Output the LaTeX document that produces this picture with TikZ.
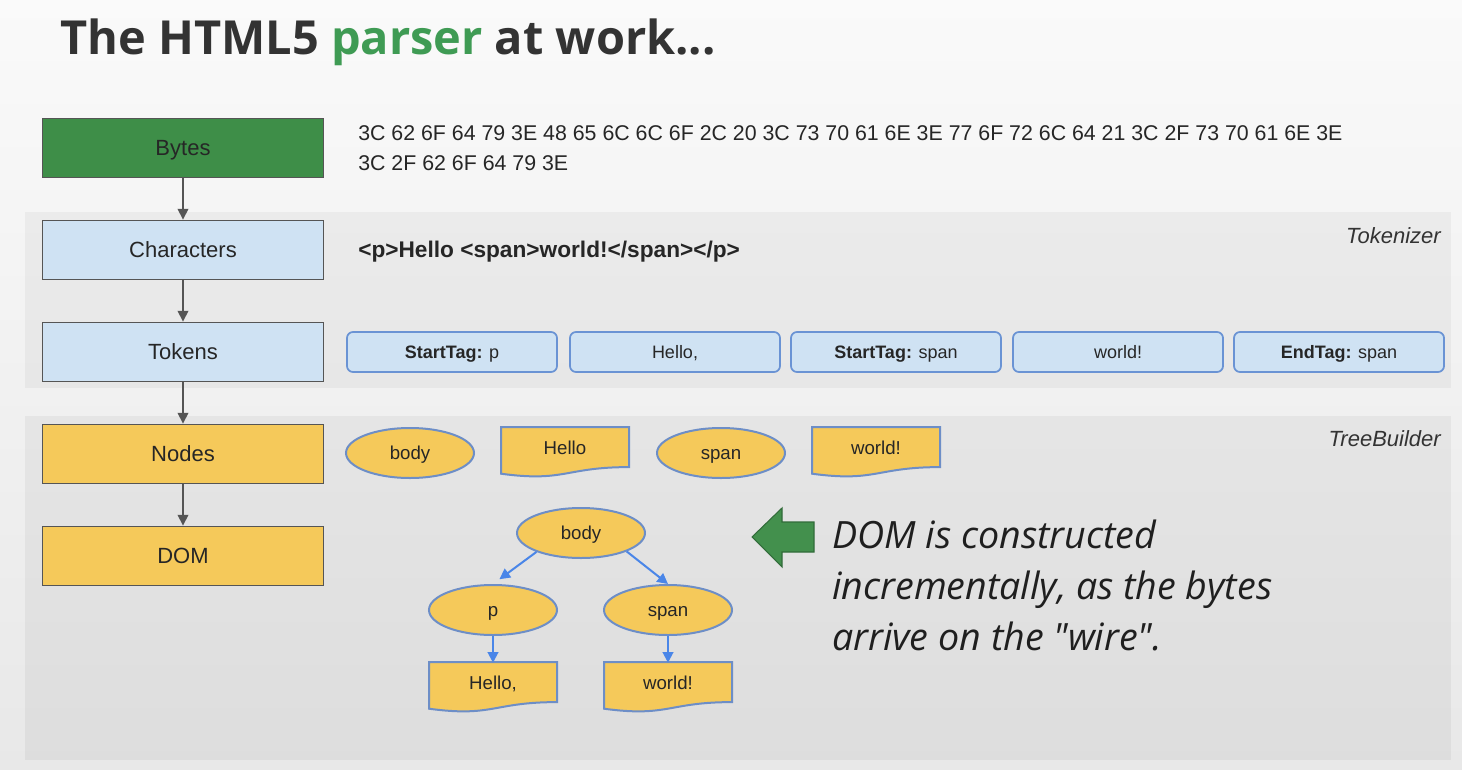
\documentclass[tikz,border=0pt]{standalone}
\usepackage{fontspec}
\setmainfont{Liberation Sans}
\newfontfamily\opensans{Open Sans}
\usetikzlibrary{shapes.geometric,arrows.meta}

\definecolor{inkdark}{HTML}{333333}
\definecolor{titlegreen}{HTML}{3F9B54}
\definecolor{bytesgreen}{HTML}{3E8E48}
\definecolor{arrowgreen}{HTML}{43904D}
\definecolor{stageblue}{HTML}{CFE2F3}
\definecolor{stageyellow}{HTML}{F5C95A}
\definecolor{stageline}{HTML}{555555}
\definecolor{tokenline}{HTML}{6A93D4}
\definecolor{treeline}{HTML}{6D8EC7}
\definecolor{treearrow}{HTML}{4A86E8}

% document shape: flat top, wavy bottom (name, left, top, width, height, text)
\newcommand\wavedoc[6]{%
  \pgfmathsetmacro\wdR{#2+#4}%
  \pgfmathsetmacro\wdM{#2+0.5*#4}%
  \pgfmathsetmacro\wdA{#3+0.802*#5}%
  \pgfmathsetmacro\wdB{#3+1.1075*#5}%
  \pgfmathsetmacro\wdC{#3+0.934*#5}%
  \draw[docshape] (#2,#3) -- (\wdR,#3) -- (\wdR,\wdA)
    .. controls (\wdM,\wdA) and (\wdM,\wdB) .. (#2,\wdC) -- cycle;
  \node[doctext, minimum width=#4*0.75pt, minimum height=#5*0.8*0.75pt]
    (#1) at (\wdM,#3+0.42*#5) {#6};
}

\begin{document}
\begin{tikzpicture}[x=0.75pt,y=-0.75pt,
  stage/.style={draw=stageline, line width=1.4pt, minimum width=210.75pt,
    minimum height=44.25pt, inner sep=0pt, text=black!85,
    text height=11.8pt, text depth=0pt,
    font=\fontsize{16.5}{18}\selectfont},
  flow/.style={draw=stageline, line width=1.1pt,
    -{Triangle[width=8pt,length=8pt]}},
  token/.style={draw=tokenline, fill=stageblue, line width=1.3pt,
    rounded corners=4.5pt, minimum width=157.5pt, minimum height=30pt,
    inner sep=0pt, text=black!85, text height=9.7pt, text depth=0pt,
    font=\fontsize{13.5}{16}\selectfont},
  treenode/.style={ellipse, draw=treeline, fill=stageyellow, line width=1.5pt,
    minimum width=96pt, minimum height=37.5pt, inner sep=0pt,
    text=black!85, text height=10pt, text depth=0pt,
    font=\fontsize{14}{16}\selectfont},
  docshape/.style={draw=treeline, fill=stageyellow, line width=1.5pt},
  doctext/.style={inner sep=0pt, text=black!85, text height=10pt, text depth=0pt,
    font=\fontsize{14}{16}\selectfont},
  treelink/.style={draw=treearrow, line width=1.5pt,
    -{Triangle[width=8pt,length=8pt]}},
  codetext/.style={anchor=base west, inner sep=0pt, text=black!85,
    font=\fontsize{16}{18}\selectfont},
  phase/.style={anchor=base east, inner sep=0pt, text=black!80,
    font=\itshape\fontsize{16.5}{18}\selectfont},
  callout/.style={anchor=base west, inner sep=0pt, text=black!88,
    font=\opensans\itshape\fontsize{28.2}{32}\selectfont}
]
\useasboundingbox (0,0) rectangle (1462,770);

% slide background and the two phase panels
\shade[top color=white!98!black, bottom color=black!9] (0,0) rectangle (1462,770);
\fill[black, fill opacity=0.04] (25,212) rectangle (1451,388);
\fill[black, fill opacity=0.045] (25,416) rectangle (1451,760);

% title
\node[anchor=base west, inner sep=0pt, text=inkdark,
  font=\opensans\bfseries\fontsize{35.2}{40}\selectfont] (title) at (60,55)
  {The HTML5 \textcolor{titlegreen}{parser} at work...};

% processing stages
\node[stage, fill=bytesgreen]  (bytes) at (183,148) {Bytes};
\node[stage, fill=stageblue]   (chars) at (183,250) {Characters};
\node[stage, fill=stageblue]   (toks)  at (183,352) {Tokens};
\node[stage, fill=stageyellow] (nodes) at (183,454) {Nodes};
\node[stage, fill=stageyellow] (dom)   at (183,556) {DOM};
\draw[flow] (bytes) -- (chars);
\draw[flow] (chars) -- (toks);
\draw[flow] (toks) -- (nodes);
\draw[flow] (nodes) -- (dom);

% raw bytes and decoded characters
\node[codetext] (hex1) at (358,141)
  {3C 62 6F 64 79 3E 48 65 6C 6C 6F 2C 20 3C 73 70 61 6E 3E 77 6F 72 6C 64 21 3C 2F 73 70 61 6E 3E};
\node[codetext] (hex2) at (358,171) {3C 2F 62 6F 64 79 3E};
\node[codetext, font=\bfseries\fontsize{17}{20}\selectfont] (chartext) at (358,257)
  {<p>Hello <span>world!</span></p>};

% phase labels
\node[phase] (tokenizer) at (1441,243) {Tokenizer};
\node[phase] (treebuilder) at (1441,446) {TreeBuilder};

% token stream
\node[token] (t1) at (452,352)  {\textbf{StartTag:} p};
\node[token] (t2) at (675,352)  {Hello,};
\node[token] (t3) at (896,352)  {\textbf{StartTag:} span};
\node[token] (t4) at (1118,352) {world!};
\node[token] (t5) at (1339,352) {\textbf{EndTag:} span};

% created nodes
\node[treenode] (body1) at (410,453) {body};
\wavedoc{hello1}{501}{427}{128}{50}{Hello}
\node[treenode] (span1) at (721,453) {span};
\wavedoc{world1}{812}{427}{128}{50}{world!}

% DOM tree
\node[treenode] (body2) at (581,533) {body};
\node[treenode] (p2)    at (493,610) {p};
\node[treenode] (span2) at (668,610) {span};
\wavedoc{hello2}{429}{662}{128}{50}{Hello,}
\wavedoc{world2}{604}{662}{128}{50}{world!}
\draw[treelink, shorten >=6pt] (body2.203) -- (p2.north);
\draw[treelink] (body2.338) -- (span2.north);
\draw[treelink] (p2.south) -- (hello2.north);
\draw[treelink] (span2.south) -- (world2.north);

% pointer and explanation
\draw[fill=arrowgreen, draw=arrowgreen!75!black, line width=0.8pt, line join=miter]
  (752,537) -- (782,508) -- (782,522) -- (814,522) -- (814,552)
  -- (782,552) -- (782,567) -- cycle;
\node[callout] (call1) at (832,548) {DOM is constructed};
\node[callout] (call2) at (832,599) {incrementally, as the bytes};
\node[callout] (call3) at (832,650) {arrive on the "wire".};
\end{tikzpicture}
\end{document}
